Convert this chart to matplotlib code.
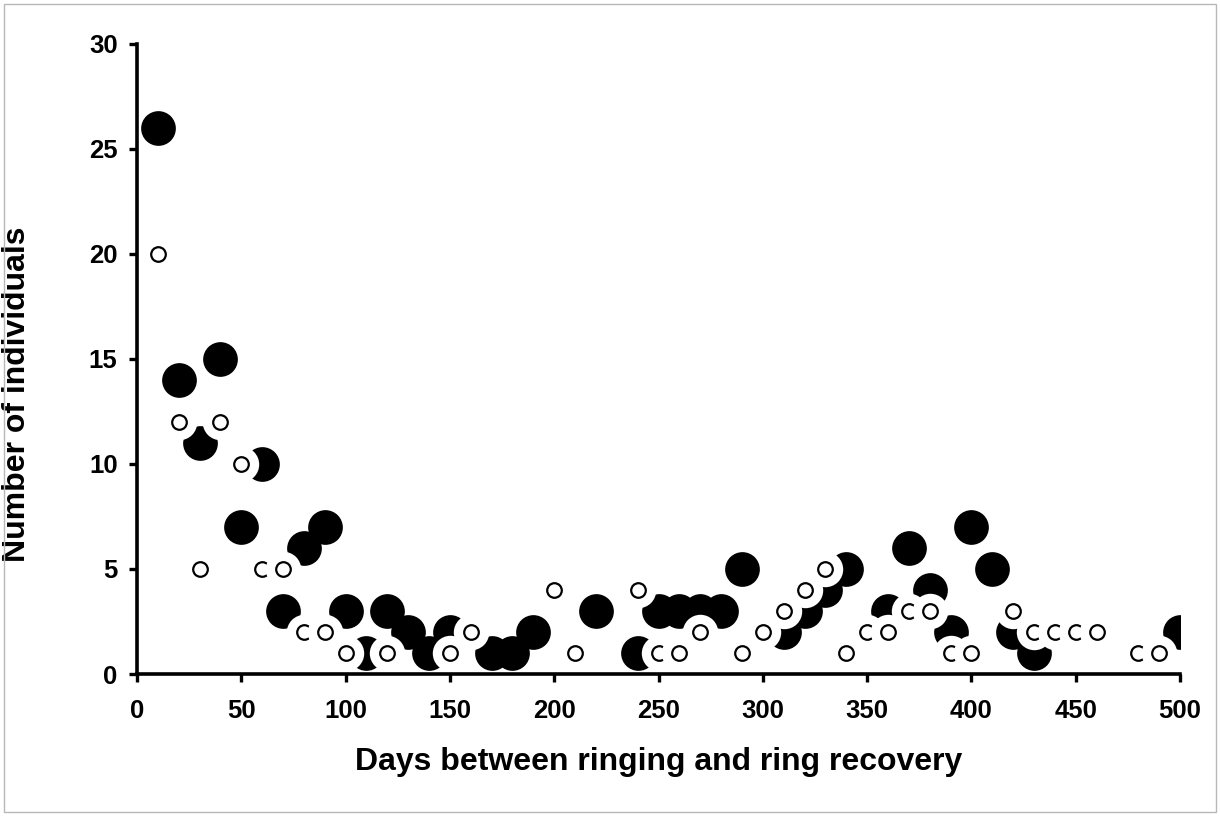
import matplotlib
matplotlib.use('Agg')

import matplotlib.pyplot as plt
from matplotlib.patches import Rectangle

plt.rcParams['font.family'] = ['Liberation Sans', 'DejaVu Sans']

# filled (large black) series
filled_days = [10, 20, 30, 40, 50, 60, 70, 80, 90, 100, 110, 120, 130, 140, 150,
               170, 180, 190, 220, 240, 250, 260, 270, 280, 290, 310, 320, 330,
               340, 360, 370, 380, 390, 400, 410, 420, 430, 500]
filled_counts = [26, 14, 11, 15, 7, 10, 3, 6, 7, 3, 1, 3, 2, 1, 2,
                 1, 1, 2, 3, 1, 3, 3, 3, 3, 5, 2, 3, 4,
                 5, 3, 6, 4, 2, 7, 5, 2, 1, 2]

# open (small white) series
open_days = [10, 20, 30, 40, 50, 60, 70, 80, 90, 100, 120, 150, 160, 200, 210,
             240, 250, 260, 270, 290, 300, 310, 320, 330, 340, 350, 360, 370,
             380, 390, 400, 420, 430, 440, 450, 460, 480, 490]
open_counts = [20, 12, 5, 12, 10, 5, 5, 2, 2, 1, 1, 1, 2, 4, 1,
               4, 1, 1, 2, 1, 2, 3, 4, 5, 1, 2, 2, 3,
               3, 1, 1, 3, 2, 2, 2, 2, 1, 1]

x_ticks = list(range(0, 501, 50))
y_ticks = list(range(0, 31, 5))


def main():
    fig = plt.figure(figsize=(12.2, 8.16), dpi=100)
    ax = fig.add_axes([137 / 1220, 1 - 674 / 816, 1043 / 1220, 630 / 816])

    ax.plot(filled_days, filled_counts, 'o', color='black', markersize=25,
            markeredgewidth=0, linestyle='none', zorder=3)

    # each open marker has a white halo; later ones cut into earlier ones
    z = 4
    for d, c in zip(open_days, open_counts):
        ax.plot([d], [c], 'o', color='white', markersize=25.5,
                markeredgewidth=0, zorder=z)
        ax.plot([d], [c], 'o', markerfacecolor='white', markeredgecolor='black',
                markersize=10.5, markeredgewidth=1.6, zorder=z + 1)
        z += 2

    ax.set_xlim(0, 500)
    ax.set_ylim(0, 30)
    ax.set_xticks(x_ticks)
    ax.set_yticks(y_ticks)

    for s in ['top', 'right']:
        ax.spines[s].set_visible(False)
    for s in ['left', 'bottom']:
        ax.spines[s].set_linewidth(2.6)
        ax.spines[s].set_zorder(200)

    ax.tick_params(axis='both', direction='out', length=6, width=2.4,
                   labelsize=18.5)
    ax.tick_params(axis='x', pad=12)
    ax.tick_params(axis='y', pad=8)
    for lab in ax.get_xticklabels() + ax.get_yticklabels():
        lab.set_fontweight('bold')

    ax.set_xlabel('Days between ringing and ring recovery', fontsize=23,
                  fontweight='bold')
    ax.xaxis.label.set_va('baseline')
    ax.xaxis.set_label_coords(0.5, -0.152)
    ax.set_ylabel('Number of individuals', fontsize=23, fontweight='bold')
    ax.yaxis.label.set_va('center')
    ax.yaxis.set_label_coords(-0.115, 0.444)

    # light frame round the whole picture
    fig.patches.append(Rectangle((4 / 1220, 4 / 816), 1 - 8 / 1220, 1 - 8 / 816,
                                 transform=fig.transFigure, fill=False,
                                 edgecolor='#b8b8b8', linewidth=1))

    fig.savefig('out.png', dpi=100)
    plt.close(fig)


if __name__ == '__main__':
    main()
